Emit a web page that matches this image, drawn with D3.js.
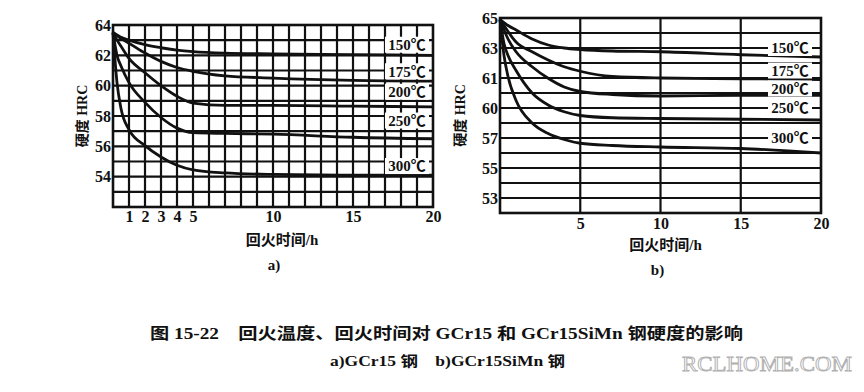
<!DOCTYPE html>
<html>
<head>
<meta charset="utf-8">
<title>回火温度、回火时间对硬度的影响</title>
<script src="https://d3js.org/d3.v7.min.js"></script>
<style>
  body { margin: 0; background: #fff; }
  text { font-family: "Liberation Serif", "Noto Sans CJK SC", serif; font-weight: bold; fill: #111; }
</style>
</head>
<body>
<div id="vis"></div>
<script>
// tempering time (h)
var hours = [0, 0.25, 0.5, 1, 2, 3, 4, 5, 7, 10, 15, 20];
var temps = ["150℃", "175℃", "200℃", "250℃", "300℃"];

// a) GCr15 hardness HRC
var gcr15_150 = [63.5, 63.35, 63.2, 63.0, 62.7, 62.5, 62.35, 62.25, 62.15, 62.1, 62.05, 62.0];
var gcr15_175 = [63.5, 63.3, 63.1, 62.8, 62.15, 61.6, 61.2, 60.95, 60.65, 60.5, 60.35, 60.3];
var gcr15_200 = [63.5, 63.0, 62.6, 61.8, 60.85, 60.0, 59.3, 58.85, 58.7, 58.7, 58.65, 58.6];
var gcr15_250 = [63.5, 62.0, 61.3, 60.2, 58.9, 57.9, 57.2, 56.9, 56.85, 56.8, 56.6, 56.5];
var gcr15_300 = [63.5, 60.2, 58.5, 57.1, 56.05, 55.3, 54.75, 54.45, 54.25, 54.15, 54.1, 54.1];

// b) GCr15SiMn hardness HRC
var simn_150 = [64.9, 64.7, 64.5, 64.2, 63.6, 63.2, 63.0, 62.9, 62.8, 62.75, 62.55, 62.4];
var simn_175 = [64.9, 64.5, 64.1, 63.4, 62.75, 62.2, 61.75, 61.45, 61.1, 61.0, 60.95, 60.9];
var simn_200 = [64.9, 64.2, 63.6, 62.75, 61.75, 60.98, 60.4, 60.1, 59.9, 59.8, 59.85, 59.85];
var simn_250 = [64.9, 63.3, 62.5, 61.5, 60.0, 59.2, 58.75, 58.5, 58.35, 58.3, 58.25, 58.2];
var simn_300 = [64.9, 62.5, 61.1, 59.5, 58.0, 57.3, 56.9, 56.65, 56.5, 56.4, 56.3, 56.0];

// tick labels
var aYTicks = [64, 62, 60, 58, 56, 54];
var aXTicks = [1, 2, 3, 4, 5, 10, 15, 20];
var bYTicks = [65, 63, 61, 59, 57, 55, 53];
var bYLabels = ["65", "63", "61", "60", "57", "55", "53"];   // as printed
var bXTicks = [5, 10, 15, 20];

// label heights (HRC) where the temperature tags sit
var aTagPos = [62.7, 60.95, 59.6, 57.7, 54.7];
var bTagPos = [63, 61.5, 60.3, 59, 57];

var svg = d3.select("#vis").append("svg")
    .attr("width", 864)
    .attr("height", 392);

svg.append("rect").attr("width", 864).attr("height", 392).attr("fill", "#fff");

function drawChart(opt) {
    var x = d3.scaleLinear().domain([0, 20]).range([opt.left, opt.right]);
    var y = d3.scaleLinear().domain(opt.yDomain).range([opt.bottom, opt.top]);
    var g = svg.append("g");

    // horizontal grid
    g.append("g").selectAll("line")
        .data(opt.hGrid).enter().append("line")
        .attr("x1", opt.left).attr("x2", opt.right)
        .attr("y1", function(d) { return y(d); })
        .attr("y2", function(d) { return y(d); })
        .attr("stroke", "#111").attr("stroke-width", 2.2);

    // vertical grid
    g.append("g").selectAll("line")
        .data(opt.vGrid).enter().append("line")
        .attr("y1", opt.top).attr("y2", opt.bottom)
        .attr("x1", function(d) { return x(d); })
        .attr("x2", function(d) { return x(d); })
        .attr("stroke", "#111").attr("stroke-width", 2.2);

    // frame
    g.append("rect")
        .attr("x", opt.left).attr("y", opt.top)
        .attr("width", opt.right - opt.left).attr("height", opt.bottom - opt.top)
        .attr("fill", "none").attr("stroke", "#111").attr("stroke-width", 2.6);

    // curves
    var line = d3.line()
        .x(function(d, i) { return x(hours[i]); })
        .y(function(d) { return y(d); })
        .curve(d3.curveMonotoneX);

    g.append("g").selectAll("path")
        .data(opt.series).enter().append("path")
        .attr("d", function(d) { return line(d); })
        .attr("fill", "none")
        .attr("stroke", "#111")
        .attr("stroke-width", 2.8);

    // temperature tags
    var tags = g.append("g").selectAll("g")
        .data(temps).enter().append("g")
        .attr("transform", function(d, i) { return "translate(" + opt.tagX + "," + y(opt.tagPos[i]) + ")"; });
    tags.append("rect")
        .attr("x", -opt.tagW / 2).attr("y", -8)
        .attr("width", opt.tagW).attr("height", 16)
        .attr("fill", "#fff");
    tags.append("text")
        .attr("text-anchor", "middle")
        .attr("dy", "0.35em")
        .style("font-size", "15px")
        .text(function(d) { return d; });

    // y axis labels
    var yAxis = d3.axisLeft(y)
        .tickValues(opt.yTicks)
        .tickSize(0)
        .tickPadding(2)
        .tickFormat(function(d, i) { return opt.yLabels[i]; });
    var ya = g.append("g").attr("transform", "translate(" + opt.left + ",0)").call(yAxis);
    ya.select(".domain").remove();
    ya.selectAll("text").style("font-size", "16px");

    // x axis labels
    var xAxis = d3.axisBottom(x)
        .tickValues(opt.xTicks)
        .tickSize(0)
        .tickPadding(opt.xPad);
    var xa = g.append("g").attr("transform", "translate(0," + opt.bottom + ")").call(xAxis);
    xa.select(".domain").remove();
    xa.selectAll("text").style("font-size", "16px");

    // axis titles
    g.append("text")
        .attr("transform", "translate(" + opt.yTitleX + "," + ((opt.top + opt.bottom) / 2) + ") rotate(-90)")
        .attr("text-anchor", "middle")
        .attr("dy", "0.35em")
        .style("font-size", "14px")
        .text("硬度 HRC");

    g.append("text")
        .attr("x", (opt.left + opt.right) / 2 + opt.xTitleShift)
        .attr("y", opt.xTitleY)
        .attr("text-anchor", "middle")
        .attr("dy", "0.35em")
        .style("font-size", "15px")
        .text("回火时间/h");

    g.append("text")
        .attr("x", (opt.left + opt.right) / 2 + opt.xTitleShift - 8)
        .attr("y", opt.subY)
        .attr("text-anchor", "middle")
        .attr("dy", "0.35em")
        .style("font-size", "15px")
        .text(opt.sub);
}

drawChart({
    left: 113, right: 433, top: 25, bottom: 207,
    yDomain: [52, 64],
    hGrid: d3.range(53, 64),
    vGrid: d3.range(1, 20),
    series: [gcr15_150, gcr15_175, gcr15_200, gcr15_250, gcr15_300],
    tagPos: aTagPos, tagX: 407, tagW: 44,
    yTicks: aYTicks, yLabels: aYTicks.map(String),
    xTicks: aXTicks, xPad: 4,
    yTitleX: 82, xTitleY: 240, xTitleShift: 9, subY: 265, sub: "a)"
});

drawChart({
    left: 500, right: 821, top: 18, bottom: 213,
    yDomain: [52, 65],
    hGrid: d3.range(53, 65),
    vGrid: [5, 10, 15],
    series: [simn_150, simn_175, simn_200, simn_250, simn_300],
    tagPos: bTagPos, tagX: 790, tagW: 44,
    yTicks: bYTicks, yLabels: bYLabels,
    xTicks: bXTicks, xPad: 5,
    yTitleX: 460, xTitleY: 245, xTitleShift: 5, subY: 270, sub: "b)"
});

// caption
svg.append("text")
    .attr("x", 150).attr("y", 333)
    .attr("dy", "0.35em")
    .attr("textLength", 593)
    .attr("lengthAdjust", "spacingAndGlyphs")
    .style("font-size", "16px")
    .style("white-space", "pre")
    .text("图 15-22    回火温度、回火时间对 GCr15 和 GCr15SiMn 钢硬度的影响");

svg.append("text")
    .attr("x", 330).attr("y", 361)
    .attr("dy", "0.35em")
    .attr("textLength", 235)
    .attr("lengthAdjust", "spacingAndGlyphs")
    .style("font-size", "14px")
    .style("white-space", "pre")
    .text("a)GCr15 钢    b)GCr15SiMn 钢");

// watermark
svg.append("text")
    .attr("x", 682).attr("y", 371)
    .attr("textLength", 170)
    .attr("lengthAdjust", "spacingAndGlyphs")
    .style("font-size", "21px")
    .style("font-weight", "normal")
    .style("fill", "#fff")
    .style("stroke", "#b0b0b0")
    .style("stroke-width", 0.9)
    .text("RCLHOME.COM");
</script>
</body>
</html>
